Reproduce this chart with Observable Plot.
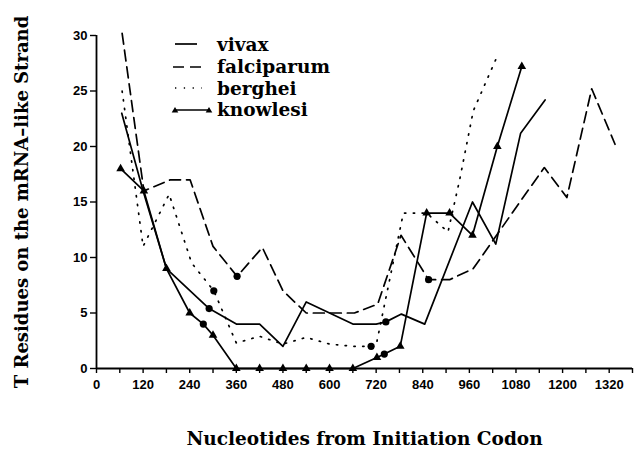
<!DOCTYPE html>
<html><head><meta charset="utf-8">
<script src="https://cdn.jsdelivr.net/npm/d3@7"></script>
<script src="https://cdn.jsdelivr.net/npm/@observablehq/plot@0.6"></script>
<style>
body{margin:0;background:#fff;}
#wrap{position:relative;width:640px;height:453px;}
.lg{position:absolute;left:160px;height:22px;display:flex;align-items:center;font-family:"DejaVu Serif";font-weight:bold;font-size:18.5px;color:#000;}
.lg svg{display:block;}
</style></head><body><div id="wrap"></div>
<script>
// ---- data (nucleotides from initiation codon, T residues) ----
const vivaxNt = [65,120,180,290,360,420,480,540,660,720,745,785,845,968,1028,1092,1155];
const vivaxT  = [23,16,9,5.4,4,4,2,6,4,4,4.2,4.9,4,15,11.2,21.2,24.2];

const falciparumNt = [66,122,190,241,300,362,427,480,540,664,724,784,855,909,970,1030,1090,1153,1211,1275,1335];
const falciparumT  = [30.2,16,17,17,11,8.3,10.9,7,5,5,5.8,12,8,8,9,12,15,18.1,15.4,25.2,20.2];

const bergheiNt = [66,120,187,245,302,360,420,480,540,600,660,707,720,790,850,905,935,970,1030];
const bergheiT  = [25,11,15.7,9.5,7,2.3,2.9,2.2,2.8,2.2,2,2,2.1,14,14,12.3,17,23.2,28];

const knowlesiNt = [62,122,180,240,275,300,360,420,480,540,600,660,722,741,782,850,909,968,1032,1095];
const knowlesiT  = [18,16,9,5,4,3,0,0,0,0,0,0,1,1.3,2,14,14,12,20,27.2];

// filled circles drawn on some points
const circleSeries = ["vivax","berghei","knowlesi","falciparum","vivax","berghei","knowlesi","falciparum"];
const circleNt     = [290,302,275,362,745,707,741,855];

const seriesNames = ["vivax","falciparum","berghei","knowlesi"];
const xTicks  = d3.range(0, 1381, 60);
const xLabels = [0,120,240,360,480,600,720,840,960,1080,1200,1320];
const yTicks  = [0,5,10,15,20,25,30];
const xTitle = "Nucleotides from Initiation Codon";
const yTitle = "T Residues on the mRNA\u2013like Strand";

// ---- build tables ----
const table = (nt, t) => nt.map((x, i) => ({nt: x, t: t[i]}));
const S = {
  vivax: table(vivaxNt, vivaxT),
  falciparum: table(falciparumNt, falciparumT),
  berghei: table(bergheiNt, bergheiT),
  knowlesi: table(knowlesiNt, knowlesiT)
};
const circles = circleSeries.map((s, i) => S[s].find(d => d.nt === circleNt[i]));
const knowlesiTri = S.knowlesi.filter(d => !circleSeries.some((s, i) => s === "knowlesi" && circleNt[i] === d.nt));

const chart = Plot.plot({
  width: 640, height: 453,
  marginLeft: 96, marginRight: 8, marginTop: 35, marginBottom: 85,
  x: {domain: [0, 1380]},
  y: {domain: [0, 30]},
  style: {background: "white", color: "black", fontFamily: "Liberation Sans", fontWeight: "bold", fontSize: "13px"},
  marks: [
    Plot.axisX({ticks: xTicks, tickSize: 5, tickPadding: 6, tickFormat: d => xLabels.includes(d) ? String(d) : "", label: null, strokeWidth: 1.4}),
    Plot.axisY({ticks: yTicks, tickSize: 6, tickPadding: 3, label: null, strokeWidth: 1.4}),
    Plot.ruleY([0], {stroke: "black", strokeWidth: 1.8}),
    Plot.ruleX([0], {stroke: "black", strokeWidth: 1.8}),
    Plot.line(S.vivax, {x: "nt", y: "t", stroke: "black", strokeWidth: 1.7}),
    Plot.line(S.falciparum, {x: "nt", y: "t", stroke: "black", strokeWidth: 1.7, strokeDasharray: "11,6"}),
    Plot.line(S.berghei, {x: "nt", y: "t", stroke: "black", strokeWidth: 1.7, strokeDasharray: "1.3,7.5"}),
    Plot.line(S.knowlesi, {x: "nt", y: "t", stroke: "black", strokeWidth: 1.7}),
    Plot.dot(knowlesiTri, {x: "nt", y: "t", symbol: "triangle", r: 3.2, fill: "black", stroke: "none"}),
    Plot.dot(circles, {x: "nt", y: "t", r: 3.6, fill: "black", stroke: "none"}),
    Plot.text([xTitle], {frameAnchor: "bottom", dy: 76, fontFamily: "DejaVu Serif", fontWeight: "bold", fontSize: 18.5}),
    Plot.text([yTitle], {frameAnchor: "left", textAnchor: "middle", rotate: -90, dx: -74, fontFamily: "DejaVu Serif", fontWeight: "bold", fontSize: 18})
  ]
});
const wrap = document.getElementById("wrap");
wrap.appendChild(chart);

// ---- legend ----
const swatch = {
  vivax: '<line x1="15" y1="11" x2="37" y2="11" stroke="black" stroke-width="1.7"/>',
  falciparum: '<line x1="13" y1="11" x2="42" y2="11" stroke="black" stroke-width="1.7" stroke-dasharray="11,6"/>',
  berghei: '<line x1="15" y1="11" x2="42" y2="11" stroke="black" stroke-width="1.7" stroke-dasharray="1.3,7.5"/>',
  knowlesi: '<line x1="15" y1="11" x2="49" y2="11" stroke="black" stroke-width="1.7"/>' +
            '<path d="M15,8 L18.3,13.5 L11.7,13.5 Z" fill="black"/><path d="M49,8 L52.3,13.5 L45.7,13.5 Z" fill="black"/>'
};
const tops = [33, 55.5, 77, 98.5];
seriesNames.forEach((name, i) => {
  const row = document.createElement("div");
  row.className = "lg";
  row.style.top = tops[i] + "px";
  row.innerHTML = `<svg width="57" height="22">${swatch[name]}</svg><span>${name}</span>`;
  wrap.appendChild(row);
});
</script>
</body></html>
